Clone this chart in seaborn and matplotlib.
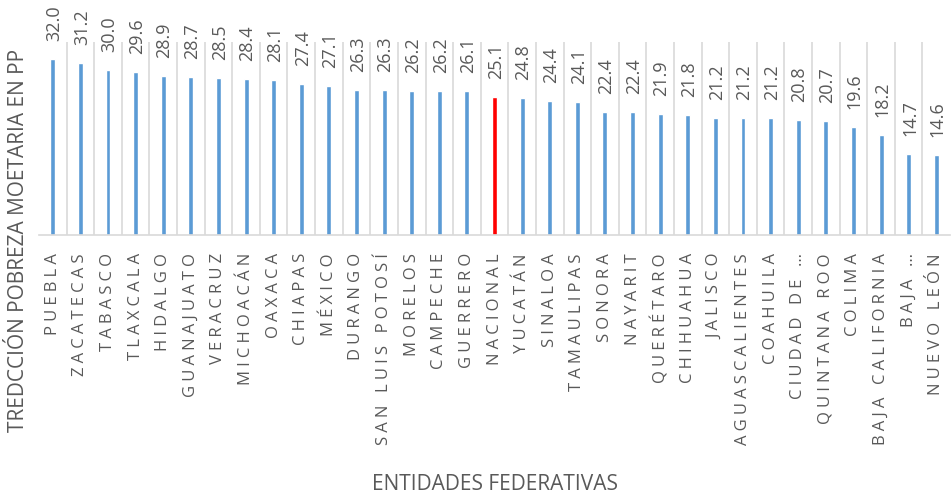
import matplotlib
matplotlib.use("Agg")
import matplotlib.pyplot as plt
import pandas as pd
import seaborn as sns

# Reducción de pobreza monetaria por entidad federativa (pp)
estados = [
    "PUEBLA", "ZACATECAS", "TABASCO", "TLAXCALA", "HIDALGO", "GUANAJUATO",
    "VERACRUZ", "MICHOACÁN", "OAXACA", "CHIAPAS", "MÉXICO", "DURANGO",
    "SAN LUIS POTOSÍ", "MORELOS", "CAMPECHE", "GUERRERO", "NACIONAL",
    "YUCATÁN", "SINALOA", "TAMAULIPAS", "SONORA", "NAYARIT", "QUERÉTARO",
    "CHIHUAHUA", "JALISCO", "AGUASCALIENTES", "COAHUILA", "CIUDAD DE …",
    "QUINTANA ROO", "COLIMA", "BAJA CALIFORNIA", "BAJA …", "NUEVO LEÓN",
]
reduccion = [
    32.0, 31.2, 30.0, 29.6, 28.9, 28.7, 28.5, 28.4, 28.1, 27.4, 27.1, 26.3,
    26.3, 26.2, 26.2, 26.1, 25.1, 24.8, 24.4, 24.1, 22.4, 22.4, 21.9, 21.8,
    21.2, 21.2, 21.2, 20.8, 20.7, 19.6, 18.2, 14.7, 14.6,
]

df = pd.DataFrame({"estado": estados, "reduccion": reduccion})
colores = {e: ("#FF0000" if e == "NACIONAL" else "#5B9BD5") for e in estados}

sns.set_theme(style="white")
plt.rcParams["font.family"] = ["Open Sans", "DejaVu Sans"]
gris = "#595959"

fig = plt.figure(figsize=(9.51, 4.97), dpi=100)
ax = fig.add_axes([0.041, 0.527, 0.958, 0.388])

sns.barplot(data=df, x="estado", y="reduccion", hue="estado", palette=colores,
            width=0.18, legend=False, ax=ax, saturation=1)

ax.set_ylim(0, 35)
ax.set_xlim(-0.5, len(estados) - 0.5)
ax.set_yticks([])

# separadores verticales entre categorías
ax.set_xticks([i + 0.5 for i in range(len(estados) - 1)], minor=True)
ax.grid(axis="x", which="minor", color="#D9D9D9", linewidth=1.2)
ax.grid(axis="x", which="major", visible=False)
ax.tick_params(axis="x", which="both", length=0, pad=13)

# espaciado entre letras como en el original
espaciadas = ["\u2005".join(e) for e in estados]
ax.set_xticks(range(len(estados)))
ax.set_xticklabels(espaciadas, rotation=90, fontsize=12, color=gris)

for sp in ["top", "right", "left"]:
    ax.spines[sp].set_visible(False)
ax.spines["bottom"].set_color("#D9D9D9")
ax.spines["bottom"].set_linewidth(1.2)

for i, v in enumerate(reduccion):
    ax.annotate(f"{v:.1f}", (i, v), xytext=(1, 13), textcoords="offset points",
                rotation=90, ha="center", va="bottom", fontsize=13, color=gris)

ax.set_ylabel("TREDCCIÓN POBREZA MOETARIA EN PP", fontsize=15, color=gris,
              ha="center", va="center")
ax.yaxis.set_label_coords(-0.0225, -0.03)
ax.set_xlabel("ENTIDADES FEDERATIVAS", fontsize=15, color=gris)
ax.xaxis.set_label_coords(0.50, -1.24)

fig.savefig("out.png", dpi=100)
